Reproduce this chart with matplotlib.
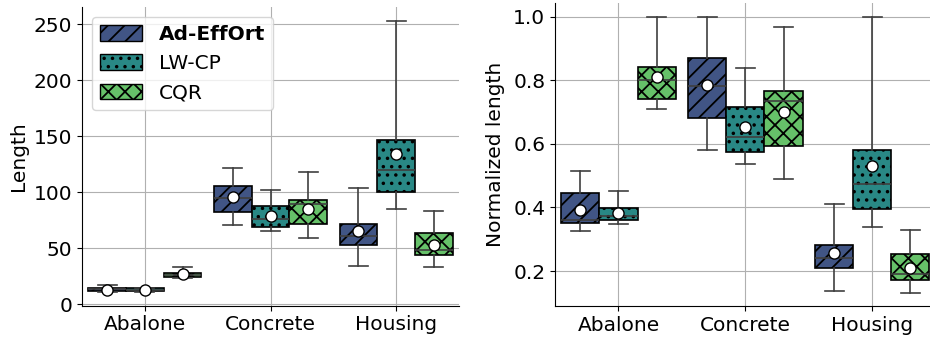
import numpy as np
import matplotlib.pyplot as plt
import seaborn as sns
from matplotlib.patches import Patch

datasets = ['Abalone', 'Concrete', 'Housing']
methods = ['Ad-EffOrt', 'LW-CP', 'CQR']
hatches = ['//', '..', 'xx']

# Length: per method, per dataset (whislo, q1, med, q3, whishi, mean)
len_whislo = [[11.0, 70.7, 34.7], [11.0, 65.3, 85.5], [24.0, 59.7, 33.8]]
len_q1 = [[11.6, 82.8, 53.4], [11.6, 69.5, 100.0], [24.3, 72.2, 43.9]]
len_med = [[13.4, 95.3, 60.9], [12.8, 76.0, 120.2], [26.4, 89.7, 48.4]]
len_q3 = [[15.1, 106.0, 71.6], [14.3, 87.6, 146.9], [28.5, 93.3, 64.1]]
len_whishi = [[17.5, 121.4, 103.6], [15.0, 102.0, 253.0], [33.8, 118.5, 83.1]]
len_mean = [[13.0, 95.9, 65.6], [13.0, 79.3, 134.2], [27.0, 85.5, 53.1]]

# Normalized length
nl_whislo = [[0.326, 0.582, 0.136], [0.349, 0.537, 0.3375], [0.709, 0.490, 0.132]]
nl_q1 = [[0.352, 0.681, 0.2105], [0.3596, 0.5737, 0.3963], [0.7428, 0.5926, 0.1727]]
nl_med = [[0.3606, 0.7827, 0.2399], [0.373, 0.622, 0.475], [0.8005, 0.7365, 0.1906]]
nl_q3 = [[0.4446, 0.872, 0.283], [0.397, 0.7176, 0.580], [0.8415, 0.7659, 0.2525]]
nl_whishi = [[0.515, 1.0, 0.411], [0.452, 0.8404, 1.0], [1.0, 0.9696, 0.328]]
nl_mean = [[0.393, 0.786, 0.2577], [0.382, 0.6525, 0.5307], [0.810, 0.7018, 0.2094]]

colors = sns.color_palette('viridis', 3, desat=0.85)
plt.rcParams['font.family'] = ['DejaVu Sans']
plt.rcParams['hatch.linewidth'] = 1.3
fs = 14.5

fig = plt.figure(figsize=(9.3, 3.43), dpi=100)
ax1 = fig.add_axes([82 / 930, 37.3 / 343, 377 / 930, 298.7 / 343])
ax2 = fig.add_axes([555 / 930, 37 / 343, 375 / 930, 302.7 / 343])


def draw(ax, wlo, q1, med, q3, whi, mean):
    w = 0.3
    for m in range(3):
        stats = []
        for d in range(3):
            stats.append(dict(whislo=wlo[m][d], q1=q1[m][d], med=med[m][d],
                              q3=q3[m][d], whishi=whi[m][d], mean=mean[m][d], fliers=[]))
        pos = np.arange(3) + (m - 1) * w
        bp = ax.bxp(stats, positions=pos, widths=w, patch_artist=True, showmeans=True,
                    manage_ticks=False,
                    boxprops=dict(edgecolor='black', linewidth=1.2),
                    whiskerprops=dict(color='#3f3f3f', linewidth=1.2),
                    capprops=dict(color='#3f3f3f', linewidth=1.2),
                    medianprops=dict(color='#3f3f3f', linewidth=1.2),
                    meanprops=dict(marker='o', markerfacecolor='white',
                                   markeredgecolor='black', markersize=8))
        for b in bp['boxes']:
            b.set_facecolor(colors[m])
            b.set_hatch(hatches[m])
            b.set_zorder(2)
        for c in bp['caps']:
            cx = c.get_xdata().mean()
            c.set_xdata([cx - w / 4, cx + w / 4])
    ax.set_xticks(range(3))
    ax.set_xticklabels(datasets, fontsize=fs)
    ax.tick_params(axis='y', labelsize=fs)
    ax.grid(True, color='#b0b0b0', linewidth=0.8)
    ax.set_axisbelow(True)
    ax.spines['top'].set_visible(False)
    ax.spines['right'].set_visible(False)


draw(ax1, len_whislo, len_q1, len_med, len_q3, len_whishi, len_mean)
draw(ax2, nl_whislo, nl_q1, nl_med, nl_q3, nl_whishi, nl_mean)

ax1.set_xlim(-0.5, 2.5)
ax1.set_ylim(-1.1, 265.5)
ax1.set_yticks([0, 50, 100, 150, 200, 250])
ax1.set_ylabel('Length', fontsize=fs)

ax2.set_xlim(-0.5, 2.454)
ax2.set_ylim(0.0898, 1.043)
ax2.set_yticks([0.2, 0.4, 0.6, 0.8, 1.0])
ax2.set_ylabel('Normalized length', fontsize=fs, labelpad=6)

handles = [Patch(facecolor=colors[i], edgecolor='black', hatch=hatches[i]) for i in range(3)]
leg = ax1.legend(handles, methods, loc='upper left', fontsize=fs, handlelength=2.1,
                 handleheight=0.8)
leg.get_texts()[0].set_fontweight('bold')

fig.savefig('out.png', dpi=100)
